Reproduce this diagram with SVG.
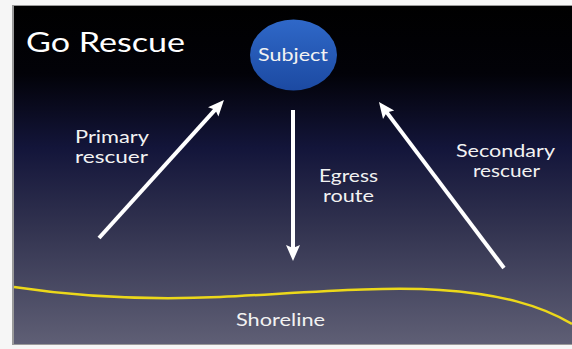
<svg xmlns="http://www.w3.org/2000/svg" width="572" height="349" viewBox="0 0 572 349">
<defs>
<linearGradient id="bg" x1="0" y1="0" x2="0" y2="1">
<stop offset="0" stop-color="#000000"/>
<stop offset="0.2" stop-color="#020208"/>
<stop offset="0.42" stop-color="#13153a"/>
<stop offset="0.65" stop-color="#31324f"/>
<stop offset="1" stop-color="#5f5f75"/>
</linearGradient>
<linearGradient id="ball" x1="0" y1="0" x2="0" y2="1">
<stop offset="0" stop-color="#2f68c8"/>
<stop offset="1" stop-color="#1c4aa2"/>
</linearGradient>
<marker id="ah" markerUnits="userSpaceOnUse" markerWidth="18" markerHeight="16" refX="4" refY="7" orient="auto" viewBox="0 0 18 14">
<path d="M0,0 L16,7 L0,14 L3,7 Z" fill="#ffffff"/>
</marker>
<style>
.lbl{font-family:Lato,"Open Sans","Liberation Sans",sans-serif;fill:#f2f2f2;text-anchor:middle;font-size:18px}
.arr{stroke:#ffffff;stroke-width:4;fill:none;marker-end:url(#ah)}
</style>
</defs>
<rect x="0" y="0" width="572" height="349" fill="#f6f6f6"/>
<rect x="12" y="5" width="560" height="340" fill="#9a9a9a"/>
<rect x="14" y="6" width="558" height="338" fill="url(#bg)"/>
<text x="26" y="52" font-family="Lato,'Open Sans','Liberation Sans',sans-serif" font-size="27" fill="#ffffff" textLength="159" lengthAdjust="spacingAndGlyphs">Go Rescue</text>
<g id="subject">
<ellipse cx="293.5" cy="55" rx="43.5" ry="35.5" fill="url(#ball)"/>
<text x="293" y="61" class="lbl" fill="#ffffff" textLength="70" lengthAdjust="spacingAndGlyphs">Subject</text>
</g>
<g id="shoreline">
<path d="M14,287 C80,297 150,300 220,297 C300,293 380,286 440,290 C500,294 540,305 572,324" stroke="#ecd81a" stroke-width="2.5" fill="none"/>
<text x="280.5" y="326" class="lbl" textLength="89" lengthAdjust="spacingAndGlyphs">Shoreline</text>
</g>
<g id="labels">
<text class="lbl" x="112" y="143" textLength="74" lengthAdjust="spacingAndGlyphs">Primary</text>
<text class="lbl" x="111.5" y="163" textLength="73" lengthAdjust="spacingAndGlyphs">rescuer</text>
<text class="lbl" x="348.5" y="182" textLength="59" lengthAdjust="spacingAndGlyphs">Egress</text>
<text class="lbl" x="348.5" y="202" textLength="51" lengthAdjust="spacingAndGlyphs">route</text>
<text class="lbl" x="505.5" y="157" textLength="99" lengthAdjust="spacingAndGlyphs">Secondary</text>
<text class="lbl" x="506.5" y="177" textLength="67" lengthAdjust="spacingAndGlyphs">rescuer</text>
</g>
<g id="connectors">
<line class="arr" x1="99" y1="238" x2="215.9" y2="108.9"/>
<line class="arr" x1="293" y1="110" x2="293" y2="249"/>
<line class="arr" x1="504" y1="268" x2="386.2" y2="111.6"/>
</g>
</svg>
